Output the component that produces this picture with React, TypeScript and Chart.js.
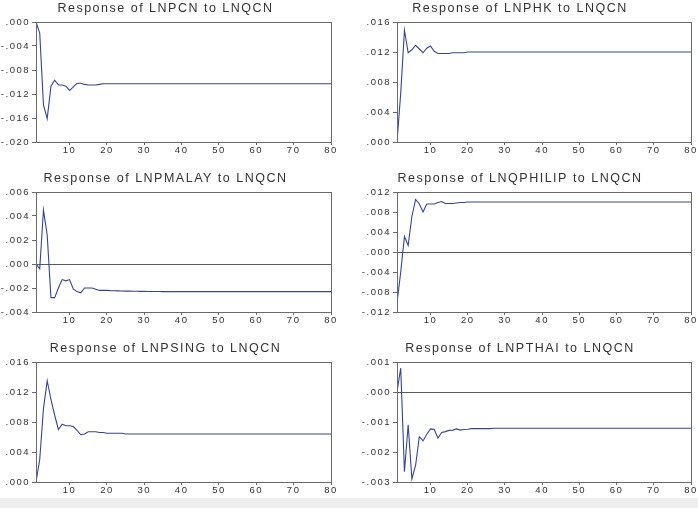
import React, { useEffect, useRef } from "react";
import { Chart, registerables } from "chart.js";

Chart.register(...registerables);

const periods: number[] = Array.from({ length: 80 }, (_, i) => i + 1);
const xTicks: number[] = [10, 20, 30, 40, 50, 60, 70, 80];

const lnpcn: number[] = [
  0, -0.00185, -0.0138, -0.0161, -0.0107, -0.0097, -0.0105, -0.0105, -0.0107, -0.0114,
  -0.0108, -0.0102, -0.0102, -0.0104, -0.0105, -0.0105, -0.0105, -0.0104, -0.0103, -0.0103,
  -0.0103, -0.0103, -0.0103, -0.0103, -0.0103, -0.0103, -0.0103, -0.0103, -0.0103, -0.0103,
  -0.0103, -0.0103, -0.0103, -0.0103, -0.0103, -0.0103, -0.0103, -0.0103, -0.0103, -0.0103,
  -0.0103, -0.0103, -0.0103, -0.0103, -0.0103, -0.0103, -0.0103, -0.0103, -0.0103, -0.0103,
  -0.0103, -0.0103, -0.0103, -0.0103, -0.0103, -0.0103, -0.0103, -0.0103, -0.0103, -0.0103,
  -0.0103, -0.0103, -0.0103, -0.0103, -0.0103, -0.0103, -0.0103, -0.0103, -0.0103, -0.0103,
  -0.0103, -0.0103, -0.0103, -0.0103, -0.0103, -0.0103, -0.0103, -0.0103, -0.0103, -0.0103,
];

const lnphk: number[] = [
  0, 0.0065, 0.0149, 0.0119, 0.0123, 0.0129, 0.0124, 0.0119, 0.0125, 0.0128,
  0.0121, 0.0118, 0.0118, 0.0118, 0.0118, 0.0119, 0.0119, 0.0119, 0.0119, 0.012,
  0.012, 0.012, 0.012, 0.012, 0.012, 0.012, 0.012, 0.012, 0.012, 0.012,
  0.012, 0.012, 0.012, 0.012, 0.012, 0.012, 0.012, 0.012, 0.012, 0.012,
  0.012, 0.012, 0.012, 0.012, 0.012, 0.012, 0.012, 0.012, 0.012, 0.012,
  0.012, 0.012, 0.012, 0.012, 0.012, 0.012, 0.012, 0.012, 0.012, 0.012,
  0.012, 0.012, 0.012, 0.012, 0.012, 0.012, 0.012, 0.012, 0.012, 0.012,
  0.012, 0.012, 0.012, 0.012, 0.012, 0.012, 0.012, 0.012, 0.012, 0.012,
];

const lnpmalay: number[] = [
  0, -0.0004, 0.0045, 0.0024, -0.0028, -0.0028, -0.002, -0.0013, -0.0014, -0.0013,
  -0.0021, -0.0023, -0.0024, -0.002, -0.002, -0.002, -0.0021, -0.0022, -0.0022, -0.0022,
  -0.00222, -0.00223, -0.00224, -0.00225, -0.00226, -0.00226, -0.00227, -0.00227, -0.00228, -0.00228,
  -0.00229, -0.00229, -0.00229, -0.00229, -0.0023, -0.0023, -0.0023, -0.0023, -0.0023, -0.0023,
  -0.0023, -0.0023, -0.0023, -0.0023, -0.0023, -0.0023, -0.0023, -0.0023, -0.0023, -0.0023,
  -0.0023, -0.0023, -0.0023, -0.0023, -0.0023, -0.0023, -0.0023, -0.0023, -0.0023, -0.0023,
  -0.0023, -0.0023, -0.0023, -0.0023, -0.0023, -0.0023, -0.0023, -0.0023, -0.0023, -0.0023,
  -0.0023, -0.0023, -0.0023, -0.0023, -0.0023, -0.0023, -0.0023, -0.0023, -0.0023, -0.0023,
];

const lnqphilip: number[] = [
  -0.0102, -0.004, 0.0031, 0.0013, 0.0071, 0.0105, 0.0096, 0.008, 0.0096, 0.0096,
  0.0096, 0.0099, 0.0101, 0.0097, 0.0097, 0.0097, 0.0098, 0.0099, 0.0099, 0.01,
  0.01, 0.01, 0.01, 0.01, 0.01, 0.01, 0.01, 0.01, 0.01, 0.01,
  0.01, 0.01, 0.01, 0.01, 0.01, 0.01, 0.01, 0.01, 0.01, 0.01,
  0.01, 0.01, 0.01, 0.01, 0.01, 0.01, 0.01, 0.01, 0.01, 0.01,
  0.01, 0.01, 0.01, 0.01, 0.01, 0.01, 0.01, 0.01, 0.01, 0.01,
  0.01, 0.01, 0.01, 0.01, 0.01, 0.01, 0.01, 0.01, 0.01, 0.01,
  0.01, 0.01, 0.01, 0.01, 0.01, 0.01, 0.01, 0.01, 0.01, 0.01,
];

const lnpsing: number[] = [
  0, 0.003, 0.0098, 0.0135, 0.011, 0.0089, 0.007, 0.0077, 0.0075, 0.0075,
  0.0074, 0.0069, 0.0063, 0.0064, 0.0067, 0.0067, 0.0067, 0.0066, 0.0066, 0.0065,
  0.0065, 0.0065, 0.0065, 0.0065, 0.0064, 0.0064, 0.0064, 0.0064, 0.0064, 0.0064,
  0.0064, 0.0064, 0.0064, 0.0064, 0.0064, 0.0064, 0.0064, 0.0064, 0.0064, 0.0064,
  0.0064, 0.0064, 0.0064, 0.0064, 0.0064, 0.0064, 0.0064, 0.0064, 0.0064, 0.0064,
  0.0064, 0.0064, 0.0064, 0.0064, 0.0064, 0.0064, 0.0064, 0.0064, 0.0064, 0.0064,
  0.0064, 0.0064, 0.0064, 0.0064, 0.0064, 0.0064, 0.0064, 0.0064, 0.0064, 0.0064,
  0.0064, 0.0064, 0.0064, 0.0064, 0.0064, 0.0064, 0.0064, 0.0064, 0.0064, 0.0064,
];

const lnpthai: number[] = [
  0, 0.0008, -0.00266, -0.00109, -0.0029, -0.00244, -0.00149, -0.00163, -0.00141, -0.00123,
  -0.00124, -0.00154, -0.00135, -0.00132, -0.00128, -0.00127, -0.00123, -0.00127, -0.00125, -0.00124,
  -0.00122, -0.00122, -0.00122, -0.00122, -0.00122, -0.00122, -0.00121, -0.00121, -0.00121, -0.00121,
  -0.00121, -0.00121, -0.00121, -0.00121, -0.00121, -0.00121, -0.00121, -0.00121, -0.00121, -0.00121,
  -0.00121, -0.00121, -0.00121, -0.00121, -0.00121, -0.00121, -0.00121, -0.00121, -0.00121, -0.00121,
  -0.00121, -0.00121, -0.00121, -0.00121, -0.00121, -0.00121, -0.00121, -0.00121, -0.00121, -0.00121,
  -0.00121, -0.00121, -0.00121, -0.00121, -0.00121, -0.00121, -0.00121, -0.00121, -0.00121, -0.00121,
  -0.00121, -0.00121, -0.00121, -0.00121, -0.00121, -0.00121, -0.00121, -0.00121, -0.00121, -0.00121,
];

const titles: string[] = [
  "Response of LNPCN to LNQCN",
  "Response of LNPHK to LNQCN",
  "Response of LNPMALAY to LNQCN",
  "Response of LNQPHILIP to LNQCN",
  "Response of LNPSING to LNQCN",
  "Response of LNPTHAI to LNQCN",
];
const seriesList: number[][] = [lnpcn, lnphk, lnpmalay, lnqphilip, lnpsing, lnpthai];
const yMins: number[] = [-0.02, 0, -0.004, -0.012, 0, -0.003];
const yMaxs: number[] = [0, 0.016, 0.006, 0.012, 0.016, 0.001];
const ySteps: number[] = [0.004, 0.004, 0.002, 0.004, 0.004, 0.001];

const FONT = "'Liberation Sans', Arial, sans-serif";
const LINE_COLOR = "#34449a";
const FRAME_COLOR = "#6a6a6a";
const TEXT_COLOR = "#333333";

function fmt(v: number): string {
  if (Math.abs(v) < 1e-12) return ".000";
  const s = Math.abs(v).toFixed(3).replace(/^0/, "");
  return (v < 0 ? "-" : "") + s;
}

const spacingPlugin = {
  id: "spacing",
  beforeUpdate(c: any) {
    c.ctx.letterSpacing = "1.5px";
  },
  beforeDraw(c: any) {
    c.ctx.letterSpacing = "1.5px";
  },
};

const framePlugin = {
  id: "frame",
  afterDraw(c: any) {
    const { left, top, right, bottom } = c.chartArea;
    const ctx = c.ctx;
    ctx.save();
    ctx.strokeStyle = FRAME_COLOR;
    ctx.lineWidth = 1;
    ctx.strokeRect(Math.round(left) + 0.5, Math.round(top) + 0.5, Math.round(right - left), Math.round(bottom - top));
    ctx.restore();
  },
};

type PanelProps = {
  idx: number;
  left: number;
  top: number;
  yWidth: number;
  plotWidth: number;
};

function Panel({ idx, left, top, yWidth, plotWidth }: PanelProps) {
  const ref = useRef<HTMLCanvasElement | null>(null);
  const W = yWidth * 2 + plotWidth;
  const H = 160;
  useEffect(() => {
    if (!ref.current) return;
    const values = seriesList[idx];
    const yMin = yMins[idx];
    const yMax = yMaxs[idx];
    const showZero = yMin < 0 && yMax > 0;
    const chart = new Chart(ref.current, {
      type: "line",
      data: {
        datasets: [
          {
            data: values.map((v, i) => ({ x: periods[i], y: v })),
            borderColor: LINE_COLOR,
            borderWidth: 1.1,
            pointRadius: 0,
            tension: 0,
            fill: false,
          },
        ],
      },
      options: {
        responsive: false,
        animation: false,
        devicePixelRatio: 1,
        layout: { padding: { left: 0, right: yWidth, top: 0, bottom: 0 } },
        plugins: {
          legend: { display: false },
          tooltip: { enabled: false },
          title: {
            display: true,
            text: titles[idx],
            color: TEXT_COLOR,
            font: { family: FONT, size: 12.5, weight: "normal", lineHeight: 1.2 },
            padding: { top: 1.5, bottom: 5.5 },
          },
        },
        scales: {
          x: {
            type: "linear",
            min: 1,
            max: 80,
            afterBuildTicks(s: any) {
              s.ticks = xTicks.map((v) => ({ value: v }));
            },
            afterFit(s: any) {
              s.height = 18;
            },
            border: { display: false },
            grid: {
              drawOnChartArea: false,
              drawTicks: true,
              tickLength: 3,
              tickColor: FRAME_COLOR,
            },
            ticks: {
              color: TEXT_COLOR,
              font: { family: FONT, size: 9.5 },
              padding: 0,
              maxRotation: 0,
              autoSkip: false,
            },
          },
          y: {
            min: yMin,
            max: yMax,
            afterFit(s: any) {
              s.width = yWidth;
            },
            border: { display: false },
            grid: {
              drawOnChartArea: showZero,
              drawTicks: true,
              tickLength: 4,
              tickColor: FRAME_COLOR,
              lineWidth: 1,
              color: (ctx: any) =>
                ctx.tick && Math.abs(ctx.tick.value) < 1e-9 ? "#5a5a5a" : "rgba(0,0,0,0)",
            },
            ticks: {
              stepSize: ySteps[idx],
              color: TEXT_COLOR,
              font: { family: FONT, size: 9.5 },
              padding: 2,
              callback: (v: any) => fmt(Number(v)),
            },
          },
        },
      },
      plugins: [spacingPlugin, framePlugin],
    } as any);
    return () => chart.destroy();
  }, [idx, yWidth]);
  return (
    <canvas
      ref={ref}
      width={W}
      height={H}
      style={{ position: "absolute", left, top, width: W, height: H }}
    />
  );
}

export default function App() {
  return (
    <div
      style={{
        position: "absolute",
        left: 0,
        top: 0,
        width: 698,
        height: 508,
        overflow: "hidden",
        background: "#ffffff",
      }}
    >
      <Panel idx={0} left={0} top={0} yWidth={36} plotWidth={295} />
      <Panel idx={1} left={349} top={0} yWidth={48} plotWidth={294} />
      <Panel idx={2} left={0} top={170} yWidth={36} plotWidth={295} />
      <Panel idx={3} left={349} top={170} yWidth={48} plotWidth={294} />
      <Panel idx={4} left={0} top={340} yWidth={36} plotWidth={295} />
      <Panel idx={5} left={349} top={340} yWidth={48} plotWidth={294} />
      <div
        style={{
          position: "absolute",
          left: 0,
          top: 498,
          width: 698,
          height: 10,
          background: "#eeeeee",
        }}
      />
    </div>
  );
}
